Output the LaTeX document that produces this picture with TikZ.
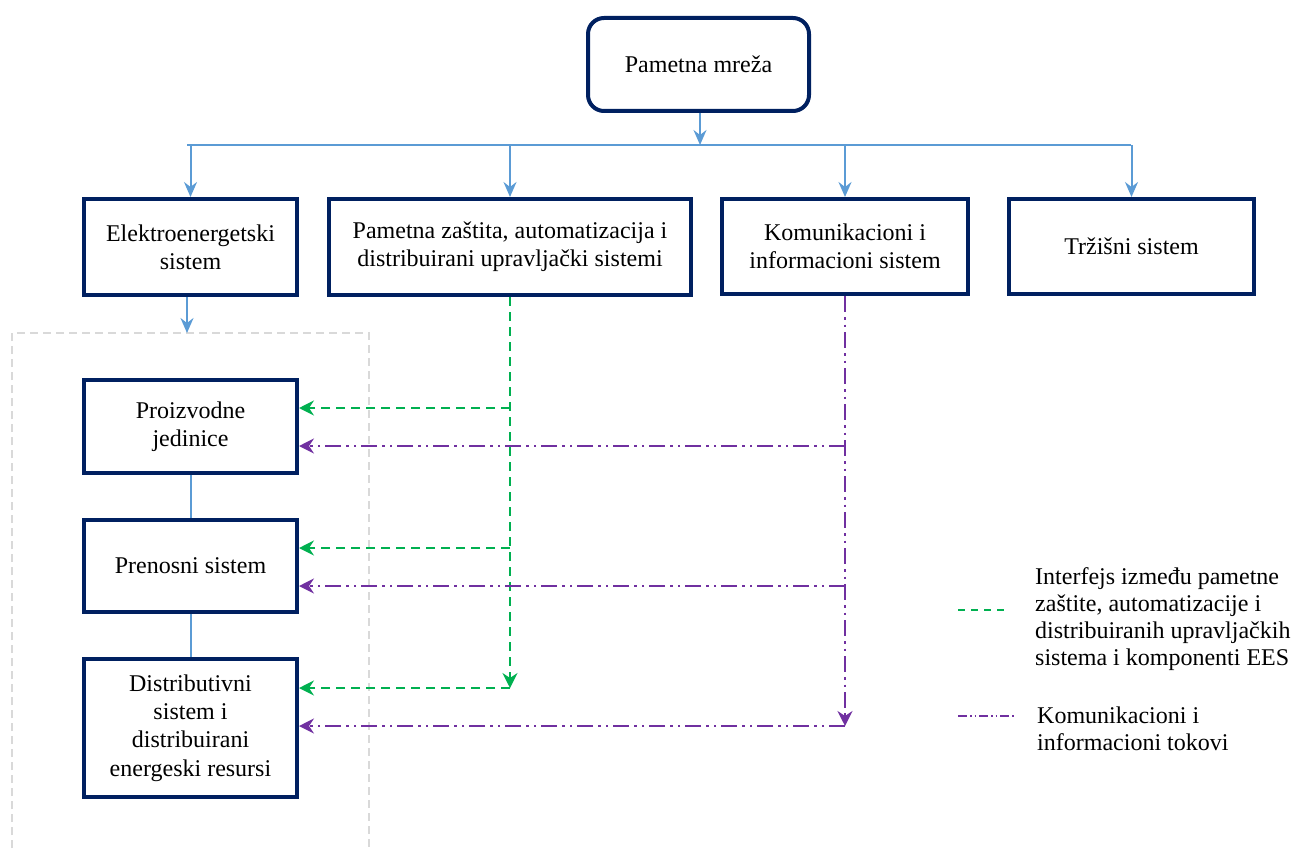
\documentclass[tikz,border=0pt]{standalone}
\usepackage{fontspec}
\setmainfont{Liberation Serif}
\usetikzlibrary{arrows.meta}
\definecolor{navy}{HTML}{002060}
\definecolor{busblue}{HTML}{5B9BD5}
\definecolor{ifgreen}{HTML}{00B050}
\definecolor{compurple}{HTML}{7030A0}
\definecolor{framegray}{HTML}{D9D9D9}
\tikzset{
  box/.style={draw=navy, line width=4pt, fill=white, align=center, inner sep=0pt,
    font=\fontsize{24pt}{28.3pt}\selectfont},
  roundbox/.style={box, rounded corners=16pt},
  bus/.style={draw=busblue, line width=2pt},
  busarrow/.style={bus, -{Stealth[length=15pt,width=13pt,inset=5pt]}},
  ifline/.style={draw=ifgreen, line width=2.2pt, dash pattern=on 9pt off 6pt},
  ifarrow/.style={ifline, -{Stealth[length=15pt,width=15pt,inset=5pt]}},
  comline/.style={draw=compurple, line width=2pt,
    dash pattern=on 16pt off 5pt on 2.5pt off 5pt on 2.5pt off 5pt},
  comarrow/.style={comline, -{Stealth[length=15pt,width=15pt,inset=5pt]}},
  frame/.style={draw=framegray, line width=2.5pt, dash pattern=on 8pt off 5pt},
  legendtext/.style={align=left, anchor=west, inner sep=0pt,
    font=\fontsize{24pt}{27pt}\selectfont}
}
\begin{document}
\begin{tikzpicture}[x=1pt,y=-1pt]
\useasboundingbox (0,0) rectangle (1292,848);

% dashed frame around the power system components (open at the bottom)
\draw[frame] (12,848) -- (12,333) -- (369,333) -- (369,848);

% top level
\node[roundbox, minimum width=221pt, minimum height=93pt] (top) at (698.5,64.5) {Pametna mreža};

% second level
\node[box, minimum width=213pt, minimum height=96pt] (ees) at (190.5,247) {Elektroenergetski\\sistem};
\node[box, minimum width=362pt, minimum height=96pt] (zast) at (510,247) {Pametna zaštita, automatizacija i\\distribuirani upravljački sistemi};
\node[box, minimum width=246pt, minimum height=95pt] (kom) at (845,246.5) {Komunikacioni i\\informacioni sistem};
\node[box, minimum width=245pt, minimum height=95pt] (trz) at (1131.5,246.5) {Tržišni sistem};

% power system components
\node[box, minimum width=213pt, minimum height=93pt] (proiz) at (190.5,426.5) {Proizvodne\\jedinice};
\node[box, minimum width=213pt, minimum height=92pt] (pren) at (190.5,566) {Prenosni sistem};
\node[box, minimum width=213pt, minimum height=138pt] (dist) at (190.5,728) {Distributivni\\sistem i\\distribuirani\\energeski resursi};

% distribution bus
\coordinate (busC) at (700,145);
\coordinate (busL) at (187,145);
\coordinate (busR) at (1131,145);
\draw[busarrow] (top.south -| busC) -- (busC);
\draw[bus] (busL) -- (busR);
\draw[busarrow] (ees.north |- busC) -- (ees.north);
\draw[busarrow] (zast.north |- busC) -- (zast.north);
\draw[busarrow] (kom.north |- busC) -- (kom.north);
\draw[busarrow] (trz.north |- busC) -- (trz.north);

% into the component frame
\coordinate (frameTop) at (187,333);
\draw[busarrow] (ees.south -| frameTop) -- (frameTop);
\draw[bus] (proiz.south) -- (pren.north);
\draw[bus] (pren.south) -- (dist.north);

% protection / automation interfaces
\coordinate (g1) at (510,408);
\coordinate (g2) at (510,548);
\coordinate (g3) at (510,688);
\draw[ifarrow] (zast.south) -- (g3);
\draw[ifarrow] (g1) -- (proiz.east |- g1);
\draw[ifarrow] (g2) -- (pren.east |- g2);
\draw[ifarrow] (g3) -- (dist.east |- g3);

% communication and information flows
\coordinate (p1) at (845,446);
\coordinate (p2) at (845,586);
\coordinate (p3) at (845,726);
\draw[comarrow] (kom.south) -- (p3);
\draw[comarrow] (p1) -- (proiz.east |- p1);
\draw[comarrow] (p2) -- (pren.east |- p2);
\draw[comarrow] (p3) -- (dist.east |- p3);

% legend
\coordinate (l1a) at (958,610);
\coordinate (l1b) at (1010,610);
\coordinate (l2a) at (958,716);
\coordinate (l2b) at (1014,716);
\draw[draw=ifgreen, line width=2pt, dash pattern=on 7pt off 6pt] (l1a) -- (l1b);
\draw[draw=compurple, line width=1.5pt, dash pattern=on 9pt off 3pt on 1.5pt off 3pt on 1.5pt off 3pt] (l2a) -- (l2b);
\node[legendtext] (leg1) at (1035,619) {Interfejs između pametne\\zaštite, automatizacije i\\distribuiranih upravljačkih\\sistema i komponenti EES};
\node[legendtext] (leg2) at (1037,729) {Komunikacioni i\\informacioni tokovi};
\end{tikzpicture}
\end{document}
